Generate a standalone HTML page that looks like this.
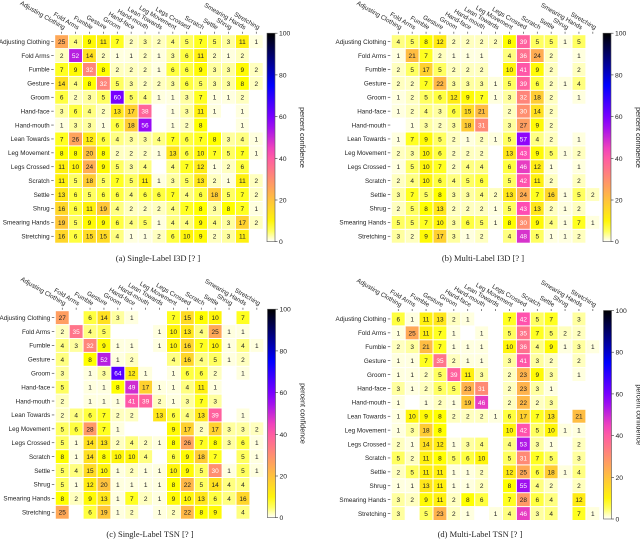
<!DOCTYPE html>
<html><head><meta charset="utf-8"><style>
html,body{margin:0;padding:0;background:#fff;}
svg{display:block;font-family:"Liberation Sans","DejaVu Sans",sans-serif;}
.cap{font-family:"Liberation Serif","DejaVu Serif",serif;}
</style></head><body>
<svg id="fig" width="640" height="540" viewBox="0 0 640 540"></svg>
<script>
const categories = ["Adjusting Clothing","Fold Arms","Fumble","Gesture","Groom","Hand-face","Hand-mouth","Lean Towards","Leg Movement","Legs Crossed","Scratch","Settle","Shrug","Smearing Hands","Stretching"];
const colorbarTicks = [0,20,40,60,80,100];
const valuesA = [
[25,4,9,11,7,2,3,2,4,5,7,5,3,11,1],
[2,52,14,2,1,1,2,1,3,6,11,2,1,2,0],
[7,9,32,8,2,2,2,1,6,6,9,3,3,9,2],
[14,4,8,32,5,3,2,2,3,6,5,3,3,8,2],
[6,2,3,5,60,5,4,1,1,3,7,1,1,2,0],
[3,6,4,2,13,17,38,0,1,3,11,1,0,1,0],
[1,3,3,1,6,18,56,0,1,2,8,0,0,1,0],
[7,26,12,6,4,3,3,4,7,6,7,8,3,4,1],
[8,8,20,8,2,2,2,1,13,6,10,7,5,7,1],
[11,10,24,9,5,3,4,0,4,7,12,1,2,6,0],
[11,5,18,5,7,5,11,1,3,5,13,2,1,11,2],
[13,6,5,6,6,4,6,6,7,4,6,18,5,7,2],
[16,6,11,19,4,2,2,2,4,7,8,3,8,7,1],
[19,5,9,9,6,4,5,1,4,4,9,4,3,17,2],
[16,6,15,15,4,1,1,2,6,10,9,2,3,11,0]];
const valuesB = [
[4,5,8,12,2,2,2,2,8,39,5,5,1,5,0],
[1,21,7,2,1,1,1,0,4,36,24,2,0,1,0],
[2,5,17,5,2,2,2,0,10,41,9,2,0,2,0],
[2,2,7,22,3,3,3,1,5,39,6,2,1,4,0],
[1,2,5,6,12,9,7,1,3,32,18,2,0,1,0],
[1,2,4,3,6,15,21,0,2,30,14,2,0,0,0],
[0,1,3,2,3,18,31,0,3,27,9,2,0,0,0],
[1,7,9,5,2,1,2,1,5,57,4,2,0,1,0],
[2,3,10,6,2,2,2,0,13,43,9,5,1,2,0],
[1,5,10,7,2,4,4,0,6,46,12,1,0,1,0],
[2,4,10,6,4,5,6,0,5,42,11,2,0,2,0],
[3,7,5,8,3,3,4,2,13,24,7,16,1,5,2],
[2,5,8,13,2,2,2,1,5,43,13,2,1,2,0],
[5,5,7,10,3,6,5,1,8,30,9,4,1,7,1],
[3,2,9,17,3,1,2,0,4,48,5,1,1,2,0]];
const valuesC = [
[27,0,6,14,3,1,0,0,7,15,8,10,0,7,0],
[2,35,4,5,0,0,0,1,10,13,4,25,1,1,0],
[4,3,32,9,1,1,0,1,10,16,7,10,1,4,1],
[4,0,8,52,1,2,0,0,4,16,4,5,1,2,0],
[3,0,1,3,64,12,1,0,1,6,6,2,0,1,0],
[5,0,1,1,8,49,17,1,1,4,11,1,0,0,0],
[2,0,1,1,1,41,39,2,1,3,7,3,0,0,0],
[2,4,6,7,2,2,0,13,6,4,13,39,0,1,0],
[5,6,28,7,1,0,0,0,9,17,2,17,3,3,2],
[5,1,14,13,2,4,2,1,8,26,7,8,3,6,1],
[8,1,14,8,10,10,4,0,6,9,18,7,0,5,1],
[5,4,15,10,1,2,1,1,10,9,5,30,1,5,1],
[5,1,12,20,1,1,1,1,8,22,5,14,4,4,0],
[8,2,9,13,1,7,2,1,9,10,13,6,4,16,0],
[25,0,6,19,1,2,0,1,2,22,8,9,0,4,0]];
const valuesD = [
[6,1,11,13,2,1,0,0,7,42,5,7,0,3,0],
[1,25,11,7,1,0,1,0,5,35,7,5,2,2,0],
[2,3,21,7,1,1,1,0,10,36,4,9,1,3,1],
[1,1,7,35,2,1,1,0,3,41,3,2,0,2,0],
[1,1,2,5,39,11,3,0,2,23,9,3,0,1,0],
[3,1,2,5,5,23,31,0,2,23,3,1,0,0,0],
[1,0,1,2,1,19,46,0,2,22,2,3,0,0,0],
[1,10,9,8,2,2,2,1,6,17,7,13,0,21,0],
[1,3,18,8,0,0,0,0,10,42,5,10,1,1,0],
[2,1,14,12,1,3,4,0,4,53,3,1,0,2,0],
[5,2,11,8,5,6,10,0,5,31,7,5,0,3,0],
[2,5,11,11,1,1,2,0,12,25,6,18,1,4,0],
[1,1,13,11,1,1,2,0,8,55,4,2,0,2,0],
[3,2,9,11,2,8,6,0,7,28,6,4,0,12,0],
[3,0,5,23,2,1,0,1,4,46,3,4,0,7,1]];
const captions = ["(a)  Single-Label I3D [? ]","(b)  Multi-Label I3D [? ]","(c)  Single-Label TSN [? ]","(d)  Multi-Label TSN [? ]"];

const NS="http://www.w3.org/2000/svg";
const svg=document.getElementById('fig');
function mk(tag,attrs,parent){const e=document.createElementNS(NS,tag);for(const k in attrs)e.setAttribute(k,attrs[k]);(parent||svg).appendChild(e);return e;}
function clip(v){return Math.max(0,Math.min(1,v));}
function cmap(v){
  const x=1-v/100;
  const r=clip(x/0.32-0.78125), g=clip(2*x-0.84);
  let b; if(x<0.25)b=4*x; else if(x<0.42)b=1; else if(x<0.92)b=-2*x+1.84; else b=x/0.08-11.5;
  b=clip(b);
  return `rgb(${Math.round(r*255)},${Math.round(g*255)},${Math.round(b*255)})`;
}
let gid=0;
function panel(values,left,top,cbX,caption,capX,capY,name){
  const cell=13.9;
  const xs=i=>left+i*cell, ys=j=>top+j*cell;
  const g=mk('g',{});
  
  
  values.forEach((row,j)=>row.forEach((v,i)=>{
    if(v<=0)return;
    const r=mk('rect',{x:xs(i)+0.5,y:ys(j)+0.5,width:cell-1,height:cell-1,fill:cmap(v)},g);
    
    
    const t=mk('text',{x:xs(i)+cell/2,y:ys(j)+cell/2+2.4,'text-anchor':'middle','font-size':6.5,fill:v>=30?'#fff':'#222'},g);
    t.textContent=v;
    
    
  }));
  categories.forEach((c,j)=>{
    mk('line',{x1:left-3.5,x2:left-1,y1:ys(j)+cell/2,y2:ys(j)+cell/2,stroke:'#333','stroke-width':0.6},g);
    const t=mk('text',{x:left-5,y:ys(j)+cell/2+2.2,'text-anchor':'end','font-size':6.3,fill:'#222'},g);
    t.textContent=c;
    
    
  });
  categories.forEach((c,i)=>{
    const cx=xs(i)+cell/2;
    mk('line',{x1:cx,x2:cx,y1:top-3,y2:top-1,stroke:'#333','stroke-width':0.6},g);
    const t=mk('text',{x:cx+2,y:top-5,'text-anchor':'end','font-size':6.3,fill:'#222',transform:`rotate(30 ${cx+2} ${top-5})`},g);
    t.textContent=c;
    
    
  });
  const h=208.5, id='cb'+(gid++);
  const defs=mk('defs',{},g);
  const lg=mk('linearGradient',{id:id,x1:0,y1:1,x2:0,y2:0},defs);
  for(let k=0;k<=20;k++){mk('stop',{offset:k/20,'stop-color':cmap(k*5)},lg);}
  const cb=mk('rect',{x:cbX,y:top-1.5,width:8,height:h,fill:`url(#${id})`,stroke:'#555','stroke-width':0.6},g);
  
  
  colorbarTicks.forEach(tv=>{
    const y=top-1.5+h-tv/100*h;
    mk('line',{x1:cbX+8,x2:cbX+10.5,y1:y,y2:y,stroke:'#333','stroke-width':0.6},g);
    const t=mk('text',{x:cbX+12,y:y+2.5,'font-size':6.8,fill:'#222'},g);
    t.textContent=tv;
    
    
  });
  const cy=top-1.5+h/2, lx=cbX+33;
  const tl=mk('text',{x:lx,y:cy,'text-anchor':'middle','font-size':7.2,fill:'#222',transform:`rotate(90 ${lx} ${cy})`},g);
  tl.textContent='percent confidence';
  
  
  const cp=mk('text',{x:capX,y:capY,'text-anchor':'middle','font-size':8.5,fill:'#222','class':'cap'},g);
  cp.textContent=caption;
  
  
}
panel(valuesA,54.7,34.7,267,captions[0],158,261,'panel-single-label-i3d');
panel(valuesB,391.3,34.7,603,captions[1],483,261,'panel-multi-label-i3d');
panel(valuesC,55.3,310.7,267.5,captions[2],150,537,'panel-single-label-tsn');
panel(valuesD,391.3,312,603.5,captions[3],480,537,'panel-multi-label-tsn');
</script>
</body></html>
